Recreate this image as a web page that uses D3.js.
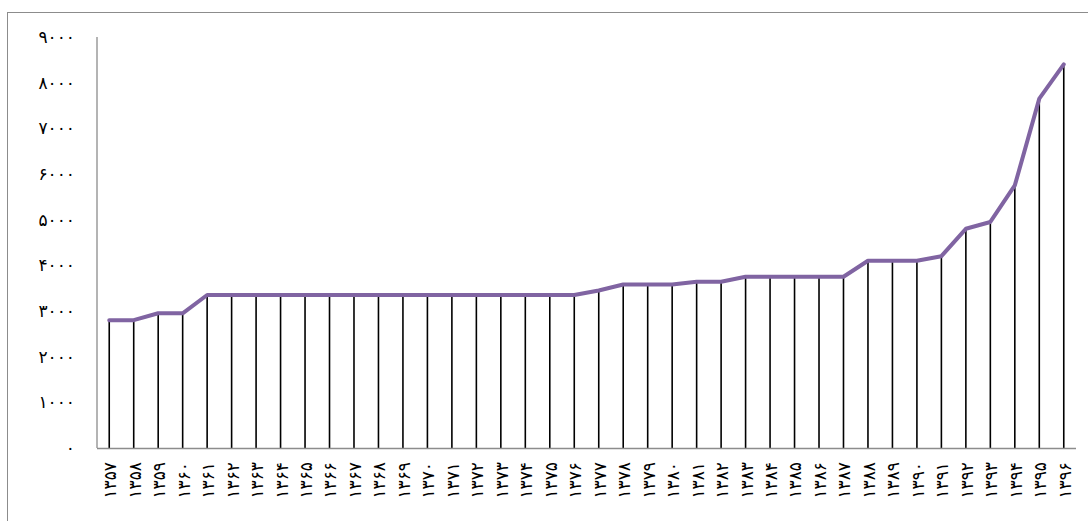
<!DOCTYPE html>
<html>
<head>
<meta charset="utf-8">
<script src="https://cdn.jsdelivr.net/npm/d3@7"></script>
<style>
  body { margin: 0; background: #fff; }
  svg { display: block; }
</style>
</head>
<body>
<svg id="chart" width="1088" height="521"></svg>
<script>
var years = [];
for (var yr = 1357; yr <= 1396; yr++) years.push(yr);

var values = [
  2800, 2800, 2950, 2950, 3350, 3350, 3350, 3350, 3350, 3350,
  3350, 3350, 3350, 3350, 3350, 3350, 3350, 3350, 3350, 3350,
  3450, 3580, 3580, 3580, 3640, 3640, 3750, 3750, 3750, 3750,
  3750, 4100, 4100, 4100, 4200, 4800, 4950, 5750, 7650, 8400
];

var yTicks = [0, 1000, 2000, 3000, 4000, 5000, 6000, 7000, 8000, 9000];

var persianDigits = "۰۱۲۳۴۵۶۷۸۹";
function toPersian(n) {
  return String(n).replace(/[0-9]/g, function (d) {
    return persianDigits[+d];
  });
}

var svg = d3.select("#chart");
var margin = { left: 97, right: 1076, top: 37, bottom: 448 };

// outer frame
svg.append("rect")
  .attr("x", 7.5)
  .attr("y", 12.5)
  .attr("width", 1100)
  .attr("height", 520)
  .attr("fill", "none")
  .attr("stroke", "#8c8c8c")
  .attr("stroke-width", 1);

var x = d3.scaleBand()
  .domain(years)
  .range([margin.left, margin.right]);

var y = d3.scaleLinear()
  .domain([0, 9000])
  .range([margin.bottom, margin.top]);

function cx(d) {
  return x(d) + x.bandwidth() / 2;
}

// drop lines
svg.append("g")
  .selectAll("line")
  .data(years)
  .enter()
  .append("line")
  .attr("x1", cx)
  .attr("x2", cx)
  .attr("y1", function (d, i) { return y(values[i]); })
  .attr("y2", y(0))
  .attr("stroke", "#000")
  .attr("stroke-width", 1.6);

// axes
svg.append("line")
  .attr("x1", margin.left)
  .attr("x2", margin.left)
  .attr("y1", margin.top)
  .attr("y2", y(0))
  .attr("stroke", "#8c8c8c")
  .attr("stroke-width", 1.3);

svg.append("line")
  .attr("x1", margin.left)
  .attr("x2", margin.right)
  .attr("y1", y(0) + 0.5)
  .attr("y2", y(0) + 0.5)
  .attr("stroke", "#8c8c8c")
  .attr("stroke-width", 1.3);

// y labels
svg.append("g")
  .selectAll("text")
  .data(yTicks)
  .enter()
  .append("text")
  .attr("x", 75)
  .attr("y", function (d) { return y(d); })
  .attr("dy", "0.35em")
  .attr("text-anchor", "end")
  .attr("font-family", "DejaVu Sans")
  .attr("font-size", 17)
  .attr("letter-spacing", 5.5)
  .attr("fill", "#000")
  .text(function (d) { return toPersian(d); });

// x labels
svg.append("g")
  .selectAll("text")
  .data(years)
  .enter()
  .append("text")
  .attr("transform", function (d) {
    return "translate(" + (cx(d) + 1) + "," + 462 + ") rotate(-90)";
  })
  .attr("dy", "0.35em")
  .attr("text-anchor", "end")
  .attr("font-family", "DejaVu Sans")
  .attr("font-size", 17)
  .attr("letter-spacing", 1.5)
  .attr("fill", "#000")
  .text(function (d) { return toPersian(d); });

// line
var line = d3.line()
  .x(function (d) { return cx(d); })
  .y(function (d, i) { return y(values[i]); });

svg.append("path")
  .datum(years)
  .attr("d", line)
  .attr("fill", "none")
  .attr("stroke", "#8064a2")
  .attr("stroke-width", 4)
  .attr("stroke-linejoin", "round")
  .attr("stroke-linecap", "round");
</script>
</body>
</html>
